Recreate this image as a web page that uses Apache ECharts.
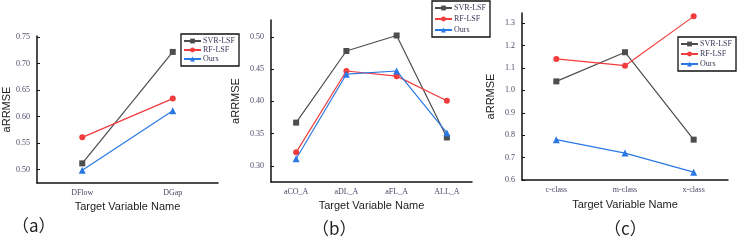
<!DOCTYPE html>
<html lang="en">

<head>
    <meta charset="UTF-8">
    <title>aRRMSE</title>
    <script src="https://cdn.jsdelivr.net/npm/echarts@6/dist/echarts.min.js"></script>
    <style>
        html, body { margin: 0; padding: 0; background: #fff; }
        .box { width: 740px; height: 240px; }
    </style>
</head>

<body>
    <div class="box"></div>
</body>

</html>
<script>
    // 数据
    var seriesNames = ['SVR-LSF', 'RF-LSF', 'Ours'];
    var catsA = ['DFlow', 'DGap'];
    var svrA = [0.512, 0.722];
    var rfA = [0.561, 0.634];
    var oursA = [0.499, 0.611];

    var catsB = ['aCO_A', 'aDL_A', 'aFL_A', 'ALL_A'];
    var svrB = [0.367, 0.478, 0.502, 0.344];
    var rfB = [0.321, 0.447, 0.439, 0.401];
    var oursB = [0.311, 0.442, 0.447, 0.351];

    var catsC = ['c-class', 'm-class', 'x-class'];
    var svrC = [1.04, 1.17, 0.78];
    var rfC = [1.14, 1.11, 1.33];
    var oursC = [0.78, 0.72, 0.635];

    var ticksA = [0.50, 0.55, 0.60, 0.65, 0.70, 0.75];
    var ticksB = [0.30, 0.35, 0.40, 0.45, 0.50];
    var ticksC = [0.6, 0.7, 0.8, 0.9, 1.0, 1.1, 1.2, 1.3];

    var colors = ['#4d4d4d', '#f03c3c', '#2a78e4'];
    var symbols = ['rect', 'circle', 'triangle'];
    var symSize = [6, 6, 7];
    var labelColor = '#4b4866';
    var serif = 'Liberation Serif';
    var sans = 'Liberation Sans';

    function xAx(idx, cats, gap) {
        return {
            type: 'category', gridIndex: idx, data: cats, boundaryGap: true,
            name: 'Target Variable Name', nameLocation: 'middle', nameGap: gap,
            nameTextStyle: { fontFamily: sans, fontSize: 11, color: '#222' },
            axisLine: { lineStyle: { color: '#111', width: 1.5 } },
            axisTick: { inside: true, length: 3, lineStyle: { color: '#111' } },
            axisLabel: { fontFamily: serif, fontSize: 8, color: labelColor, margin: 6 },
            splitLine: { show: false }
        };
    }

    function yAx(idx, min, max, ticks, gap, digits) {
        return {
            type: 'value', gridIndex: idx, min: min, max: max,
            name: 'aRRMSE', nameLocation: 'middle', nameGap: gap,
            nameTextStyle: { fontFamily: sans, fontSize: 11, color: '#222' },
            axisLine: { show: true, lineStyle: { color: '#111', width: 1.5 } },
            axisTick: { show: true, inside: true, length: 3, customValues: ticks, lineStyle: { color: '#111' } },
            axisLabel: {
                fontFamily: serif, fontSize: 8, color: labelColor, margin: 7,
                customValues: ticks,
                formatter: function(v) { return v.toFixed(digits); }
            },
            splitLine: { show: false }
        };
    }

    function lines(idx, data) {
        var out = [];
        for (var i = 0; i < data.length; i++) {
            out.push({
                name: seriesNames[i], type: 'line', xAxisIndex: idx, yAxisIndex: idx,
                data: data[i], symbol: symbols[i], symbolSize: symSize[i],
                lineStyle: { color: colors[i], width: 1.2 },
                itemStyle: { color: colors[i] },
                animation: false
            });
        }
        return out;
    }

    function leg(left, top, gap) {
        return {
            orient: 'vertical', left: left, top: top, data: seriesNames,
            itemWidth: 17, itemHeight: 6, itemGap: gap,
            padding: [3, 4, 3, 2],
            borderColor: '#111', borderWidth: 1.3,
            textStyle: { fontFamily: serif, fontSize: 8, color: '#3c3a5a', padding: [0, 0, 0, -3] },
            selectedMode: false
        };
    }

    var option = {
        animation: false,
        grid: [
            { left: 37, top: 36, width: 181, height: 147 },
            { left: 271, top: 20, width: 201, height: 162 },
            { left: 522, top: 13, width: 206, height: 167 }
        ],
        xAxis: [xAx(0, catsA, 17), xAx(1, catsB, 17), xAx(2, catsC, 19)],
        yAxis: [
            yAx(0, 0.475, 0.752, ticksA, 21, 2),
            yAx(1, 0.275, 0.526, ticksB, 30, 2),
            yAx(2, 0.6, 1.345, ticksC, 26, 1)
        ],
        legend: [leg(181, 34, 1), leg(432, 1, 3), leg(678, 37, 2)],
        series: [].concat(
            lines(0, [svrA, rfA, oursA]),
            lines(1, [svrB, rfB, oursB]),
            lines(2, [svrC, rfC, oursC])
        ),
        graphic: [
            { type: 'text', left: 12, top: 217, style: { text: '（a）', font: '17px "Noto Sans CJK SC"', fill: '#222' } },
            { type: 'text', left: 312, top: 220, style: { text: '（b）', font: '17px "Noto Sans CJK SC"', fill: '#222' } },
            { type: 'text', left: 604, top: 220, style: { text: '（c）', font: '17px "Noto Sans CJK SC"', fill: '#222' } }
        ]
    };

    var myChart = echarts.init(document.querySelector('.box'));
    myChart.setOption(option);
</script>
